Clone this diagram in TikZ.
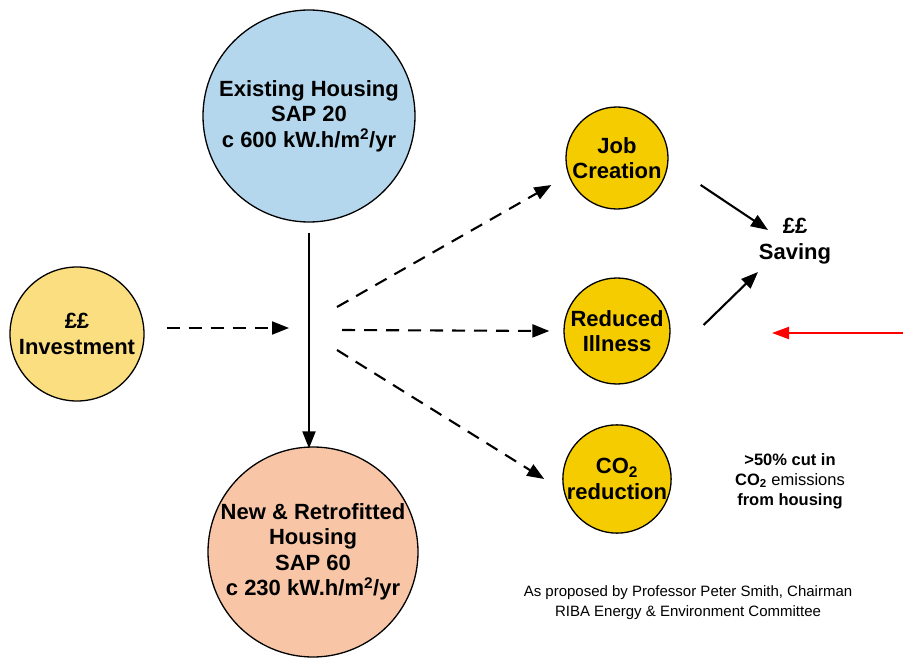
\documentclass[tikz,border=0pt]{standalone}
\usepackage{fontspec}
\setmainfont{Liberation Sans}
\usetikzlibrary{arrows.meta}
\definecolor{existingblue}{RGB}{180,215,237}
\definecolor{retrofitpeach}{RGB}{248,198,166}
\definecolor{investyellow}{RGB}{250,222,128}
\definecolor{benefitgold}{RGB}{244,204,0}
\tikzset{
  bubble/.style={circle,draw=black,line width=1.3pt,inner sep=0pt,align=center,font=\bfseries\fontsize{22}{25.5}\selectfont},
  flow/.style={draw=black,line width=2.1pt,-{Triangle[length=17pt,width=13pt]}},
  maybeflow/.style={flow,dash pattern=on 13pt off 9pt},
  pointer/.style={draw=red,line width=2pt,-{Triangle[length=17pt,width=12pt]}},
}

\begin{document}
\begin{tikzpicture}[x=1pt,y=1pt]
  \useasboundingbox (0,0) rectangle (903,-658);
  \clip (0,0) rectangle (903,-658);

  % housing stock
  \node[bubble,fill=existingblue,minimum size=212pt] (existing) at (309,-116) {Existing Housing\\SAP 20\\c 600 kW.h/m\textsuperscript{2}/yr};
  \node[bubble,fill=retrofitpeach,minimum size=210pt] (retrofit) at (313,-552) {New \& Retrofitted\\Housing\\SAP 60\\c 230 kW.h/m\textsuperscript{2}/yr};
  \node[bubble,fill=investyellow,minimum size=134pt] (invest) at (77,-334) {££\\Investment};

  % benefits
  \node[bubble,fill=benefitgold,minimum size=102pt] (jobs) at (617,-158) {Job\\Creation};
  \node[bubble,fill=benefitgold,minimum size=106pt] (illness) at (617,-331) {Reduced\\Illness};
  \node[bubble,fill=benefitgold,minimum size=106pt] (carbon) at (617,-479) {CO\textsubscript{2}\\reduction};

  \node[align=center,font=\bfseries\fontsize{22}{25.5}\selectfont] (saving) at (795,-241) {££\\Saving};
  \node[align=center,font=\fontsize{16.5}{20}\selectfont] (cut) at (790,-481) {\textbf{>50\% cut in}\\\textbf{CO\textsubscript{2}} emissions\\\textbf{from housing}};
  \node[align=center,font=\fontsize{15}{20}\selectfont] (credit) at (688,-603) {As proposed by Professor Peter Smith, Chairman\\RIBA Energy \& Environment Committee};

  % hub where the flows meet
  \coordinate (hub_in) at (289,-328);
  \coordinate (hub_top) at (337,-307);
  \coordinate (hub_mid) at (342,-330);
  \coordinate (hub_low) at (337,-350);
  \coordinate (pointer_start) at (903,-333);
  \coordinate (pointer_end) at (772,-333);

  \draw[flow] (existing.south) ++(0,-10) -- ([yshift=-2pt]existing.south |- retrofit.north);
  \draw[maybeflow] (invest.east) ++(22,6) -- (hub_in);
  \draw[maybeflow] (hub_top) -- ([xshift=-14pt,yshift=-27pt]jobs.west);
  \draw[maybeflow] (hub_mid) -- ([xshift=-14pt]illness.west);
  \draw[maybeflow] (hub_low) -- ([xshift=-18pt]carbon.west);
  \draw[flow] ([xshift=32pt,yshift=-27pt]jobs.east) -- ([xshift=-27pt,yshift=11pt]saving.center);
  \draw[flow] ([xshift=33pt,yshift=6pt]illness.east) -- ([xshift=-37pt,yshift=-31pt]saving.center);
  \draw[pointer] (pointer_start) -- (pointer_end);
\end{tikzpicture}
\end{document}
